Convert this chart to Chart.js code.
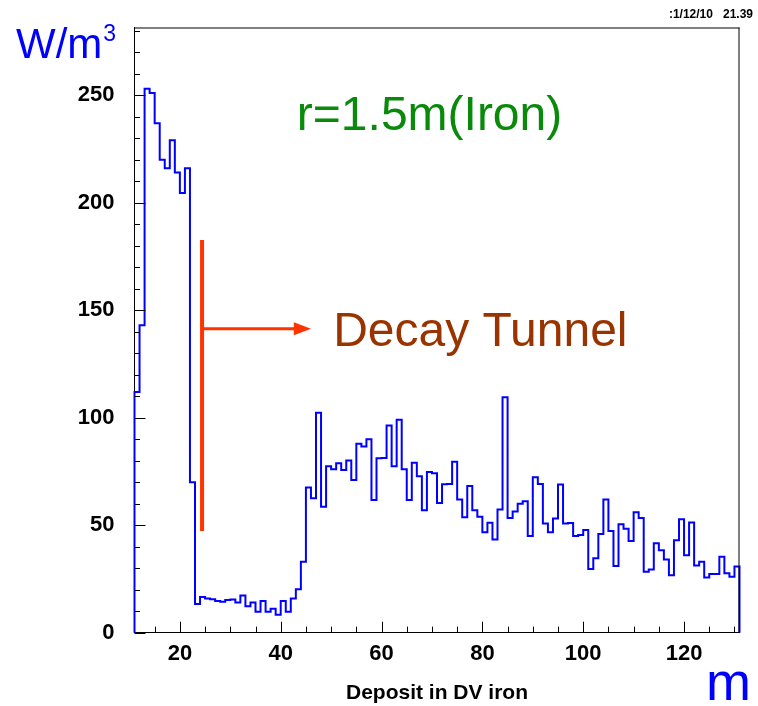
<!DOCTYPE html>
<html><head><meta charset="utf-8">
<script src="https://cdn.jsdelivr.net/npm/chart.js@4/dist/chart.umd.min.js"></script>
<style>html,body{margin:0;padding:0;background:#fff;}#wrap{width:758px;height:706px;position:relative;}</style>
</head><body><div id="wrap"><canvas id="c" width="758" height="706"></canvas></div>
<script>
// ---- data ----
const binLowEdges = [11,12,13,14,15,16,17,18,19,20,21,22,23,24,25,26,27,28,29,30,31,32,33,34,35,36,37,38,39,40,41,42,43,44,45,46,47,48,49,50,51,52,53,54,55,56,57,58,59,60,61,62,63,64,65,66,67,68,69,70,71,72,73,74,75,76,77,78,79,80,81,82,83,84,85,86,87,88,89,90,91,92,93,94,95,96,97,98,99,100,101,102,103,104,105,106,107,108,109,110,111,112,113,114,115,116,117,118,119,120,121,122,123,124,125,126,127,128,129,130];
const binWidth = 1;
const depositValues = [112,143,253,251,237,220,216,229,214,204.5,216,70,
 13.3,16.6,15.9,15.6,14.7,14.4,15.2,15.5,14.1,17.3,
 12.3,14.1,9.8,14.7,9.8,11.1,8.4,14.7,9.8,15.9,
 20.2,33,67.5,62.5,102.3,58.6,77.4,76,78.8,75.7,
 80.1,71,87.9,86.6,90,61.7,81.2,81.3,96.4,77.4,
 99.1,76,61.7,79.1,72.8,57,74.7,74.2,60.3,69,
 69.2,79.5,62,53.7,68.2,57,53.9,46.7,51.1,43.3,
 57.3,109.5,53.4,56.4,60,61.1,45,72.3,69.2,50.8,
 46.7,53.1,68.9,50.8,51,45,45.5,47.8,29.6,34.6,
 45.9,61.9,47.3,31,50.5,48.4,42.7,56,53.3,28.3,
 29.4,41.6,38.4,34,26.7,43,52.8,36,51.2,31.2,
 33,25.7,27.3,27.3,35.3,27.7,26,30.8];
const xMajorTicks = [20,40,60,80,100,120];
const xMinorTicks = [15,25,30,35,45,50,55,65,70,75,85,90,95,105,110,115,125,130];
const yMajorTicks = [0,50,100,150,200,250];
const yMinorTicks = [10,20,30,40,60,70,80,90,110,120,130,140,160,170,180,190,210,220,230,240,260,270,280];
const xTitle = 'Deposit in DV iron';
const yUnit = 'W/m';
const yUnitExp = '3';
const xUnit = 'm';
const labelRadius = 'r=1.5m(Iron)';
const labelTunnel = 'Decay Tunnel';
const dateStamp = ':1/12/10   21.39';

// ---- build histogram outline points ----
const pts = [{x: binLowEdges[0], y: 0}];
binLowEdges.forEach((e, i) => pts.push({x: e, y: depositValues[i]}));
pts.push({x: binLowEdges[binLowEdges.length - 1] + binWidth, y: 0});

const FONT = "'Liberation Sans', Arial, Helvetica, sans-serif";

const tickPlugin = {
  id: 'rootTicks',
  afterDatasetsDraw(chart) {
    const {ctx, chartArea: a, scales: {x, y}} = chart;
    ctx.save();
    ctx.strokeStyle = '#000'; ctx.lineWidth = 1;
    ctx.beginPath();
    ctx.moveTo(a.left, a.top + 0.5); ctx.lineTo(a.right, a.top + 0.5);
    ctx.moveTo(a.right - 0.5, a.top); ctx.lineTo(a.right - 0.5, a.bottom);
    xMajorTicks.forEach(v => { const px = Math.round(x.getPixelForValue(v)) + 0.5; ctx.moveTo(px, a.bottom); ctx.lineTo(px, a.bottom - 11); });
    xMinorTicks.forEach(v => { const px = Math.round(x.getPixelForValue(v)) + 0.5; ctx.moveTo(px, a.bottom); ctx.lineTo(px, a.bottom - 6); });
    yMajorTicks.forEach(v => { const py = Math.round(y.getPixelForValue(v)) + 0.5; ctx.moveTo(a.left, py); ctx.lineTo(a.left + 11, py); });
    yMinorTicks.forEach(v => { const py = Math.round(y.getPixelForValue(v)) + 0.5; ctx.moveTo(a.left, py); ctx.lineTo(a.left + 5.5, py); });
    ctx.stroke();
    ctx.restore();
  }
};

const annotPlugin = {
  id: 'annot',
  afterDraw(chart) {
    const {ctx, scales: {x, y}} = chart;
    ctx.save();
    ctx.strokeStyle = '#ff3300'; ctx.fillStyle = '#ff3300';
    ctx.lineWidth = 4;
    ctx.beginPath();
    ctx.moveTo(x.getPixelForValue(24.4), y.getPixelForValue(182.7));
    ctx.lineTo(x.getPixelForValue(24.4), y.getPixelForValue(47.3));
    ctx.stroke();
    const ay = y.getPixelForValue(141.4);
    ctx.lineWidth = 3;
    ctx.beginPath();
    ctx.moveTo(x.getPixelForValue(24.4), ay);
    ctx.lineTo(x.getPixelForValue(43.5), ay);
    ctx.stroke();
    ctx.beginPath();
    ctx.moveTo(x.getPixelForValue(46.0), ay);
    ctx.lineTo(x.getPixelForValue(42.6), ay - 6.5);
    ctx.lineTo(x.getPixelForValue(42.6), ay + 6.5);
    ctx.closePath(); ctx.fill();

    ctx.textBaseline = 'middle'; ctx.textAlign = 'left';
    ctx.fillStyle = '#0a8a0a';
    ctx.font = '48px ' + FONT;
    ctx.fillText(labelRadius, x.getPixelForValue(43.2), y.getPixelForValue(240));
    ctx.fillStyle = '#993300';
    ctx.fillText(labelTunnel, x.getPixelForValue(50.4), y.getPixelForValue(139.5));

    ctx.textBaseline = 'alphabetic';
    ctx.fillStyle = '#0000ff';
    ctx.font = '42px ' + FONT;
    ctx.fillText(yUnit, 16, 58);
    const w = ctx.measureText(yUnit).width;
    ctx.font = '23px ' + FONT;
    ctx.fillText(yUnitExp, 16 + w + 1, 41);
    ctx.font = '54px ' + FONT;
    ctx.fillText(xUnit, 706, 700);

    ctx.fillStyle = '#000';
    ctx.font = 'bold 12px ' + FONT;
    ctx.textAlign = 'right';
    ctx.fillText(dateStamp, 753, 18);
    ctx.restore();
  }
};

new Chart(document.getElementById('c'), {
  type: 'line',
  data: { datasets: [{ data: pts, borderColor: '#0000ff', borderWidth: 2, stepped: true, pointRadius: 0, fill: false, clip: false }] },
  options: {
    responsive: false, animation: false, devicePixelRatio: 1,
    layout: { padding: { left: 0, right: 18.5, top: 27.5, bottom: 0 } },
    plugins: { legend: { display: false }, tooltip: { enabled: false } },
    scales: {
      x: {
        type: 'linear', min: 11, max: 131,
        grid: { display: false },
        border: { display: true, color: '#000', width: 1 },
        afterBuildTicks: s => { s.ticks = xMajorTicks.map(v => ({ value: v })); },
        ticks: { autoSkip: false, maxRotation: 0, padding: 0, color: '#000', font: { family: FONT, weight: 'bold', size: 22 } },
        title: { display: true, text: xTitle, color: '#000', font: { family: FONT, weight: 'bold', size: 21 }, padding: { top: 0, bottom: 0 } },
        afterFit: s => { s.height = 73.3; }
      },
      y: {
        type: 'linear', min: 0, max: 281.5,
        grid: { display: false },
        border: { display: true, color: '#000', width: 1 },
        afterBuildTicks: s => { s.ticks = yMajorTicks.map(v => ({ value: v })); },
        ticks: { padding: 12, color: '#000', font: { family: FONT, weight: 'bold', size: 22 } },
        afterFit: s => { s.width = 134.5; }
      }
    }
  },
  plugins: [tickPlugin, annotPlugin]
});
</script></body></html>
